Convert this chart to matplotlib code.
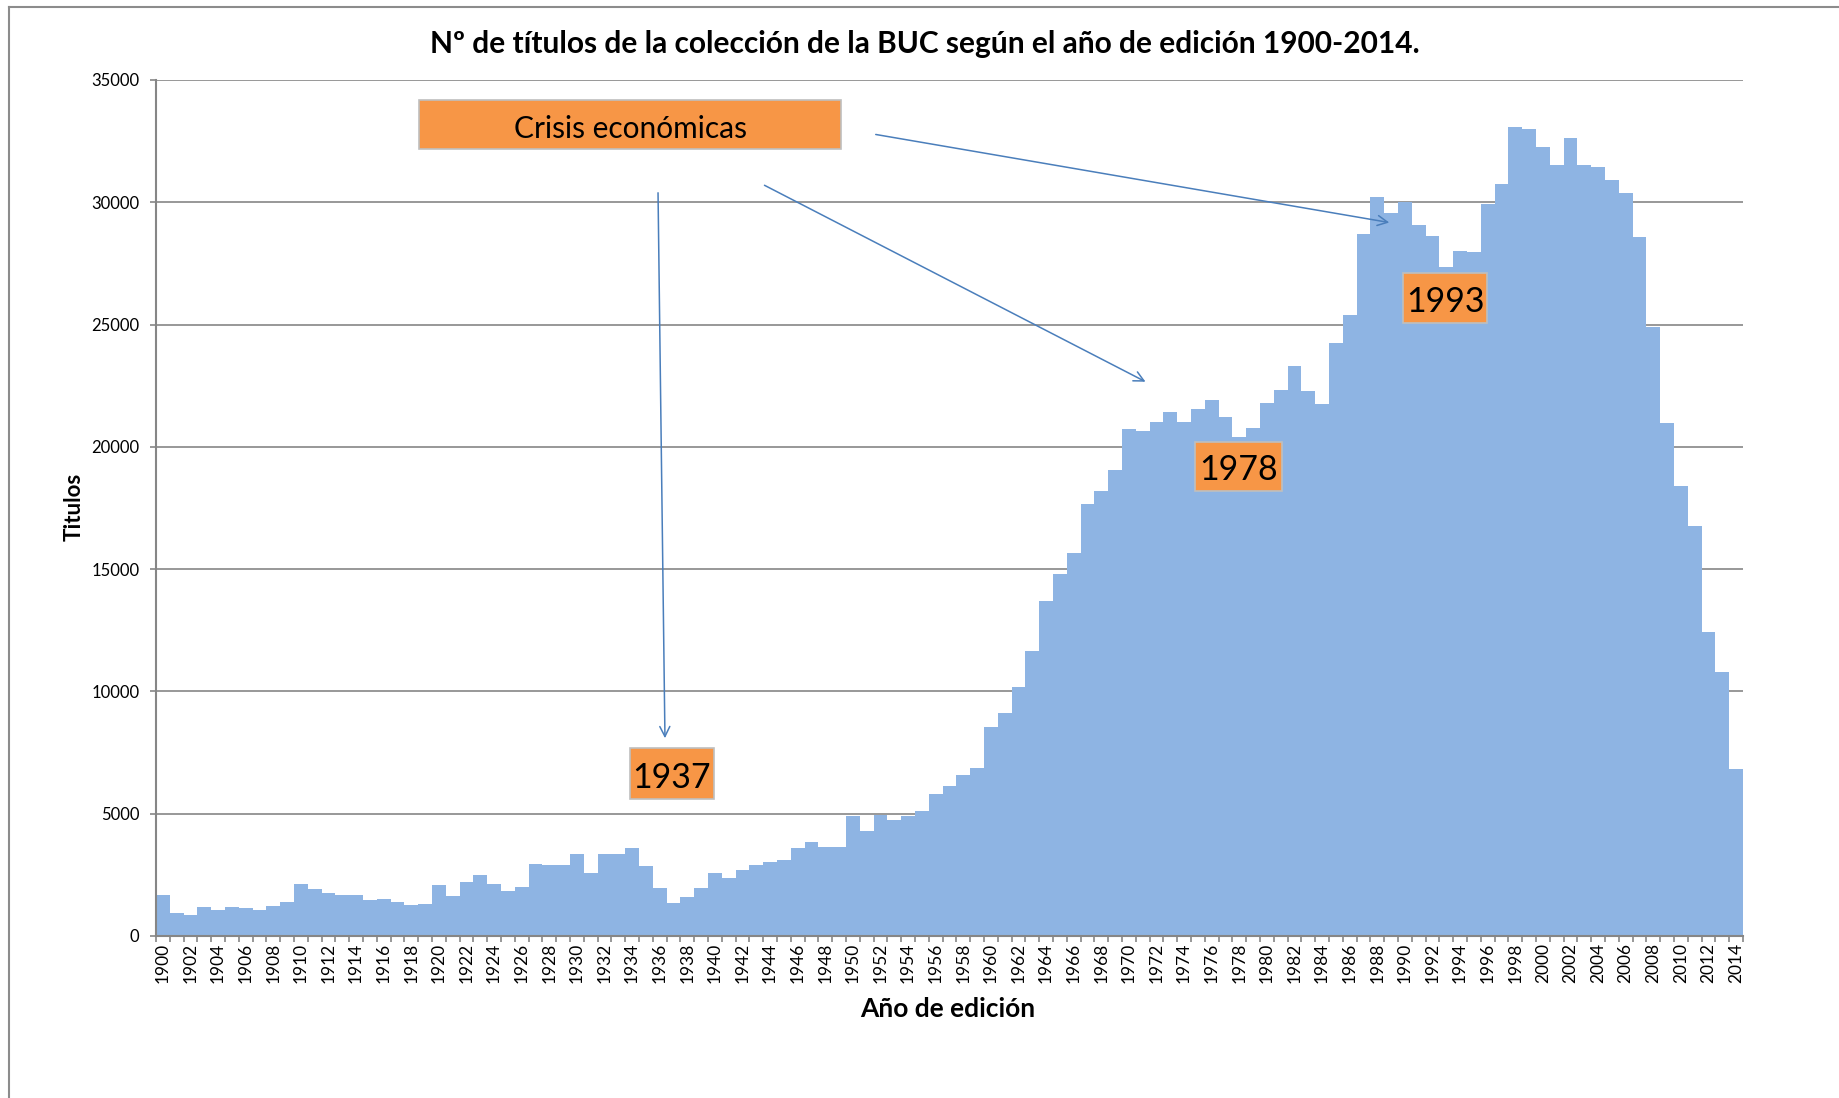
import numpy as np
import matplotlib
matplotlib.use('Agg')
import matplotlib.pyplot as plt
from matplotlib.patches import Rectangle, FancyArrowPatch
from matplotlib.lines import Line2D
from matplotlib.ticker import MultipleLocator

plt.rcParams['font.family'] = ['Lato', 'DejaVu Sans']

# datos: nº de títulos por año de edición
anios = list(range(1900, 2015))
titulos = [
    1690, 960, 850, 1180, 1070, 1180, 1140, 1070, 1240, 1410,        # 1900-1909
    2140, 1920, 1760, 1690, 1690, 1480, 1520, 1410, 1250, 1300,      # 1910-1919
    2090, 1650, 2200, 2480, 2130, 1850, 2020, 2960, 2920, 2920,      # 1920-1929
    3360, 2570, 3360, 3360, 3590, 2850, 1950, 1350, 1610, 1950,      # 1930-1939
    2570, 2360, 2700, 2900, 3020, 3090, 3600, 3830, 3650, 3620,      # 1940-1949
    4900, 4290, 4950, 4740, 4900, 5120, 5790, 6130, 6580, 6870,      # 1950-1959
    8560, 9130, 10200, 11640, 13680, 14790, 15680, 17650, 18210, 19060,   # 1960-1969
    20740, 20630, 21020, 21410, 21020, 21530, 21930, 21230, 20400, 20790, # 1970-1979
    21800, 22310, 23320, 22270, 21750, 24230, 25400, 28720, 30200, 29560, # 1980-1989
    30030, 29070, 28620, 27350, 27990, 27950, 29920, 30750, 33060, 33010, # 1990-1999
    32280, 31540, 32610, 31540, 31430, 30930, 30360, 28580, 24920, 20980, # 2000-2009
    18400, 16760, 12430, 10810, 6820,                                      # 2010-2014
]
etiquetas_x = [str(a) for a in anios if a % 2 == 0]

titulo = 'Nº de títulos de la colección de la BUC según el año de edición 1900-2014.'
notas = ['1937', '1978', '1993']

W, H = 1839, 1098
fig = plt.figure(figsize=(W / 100, H / 100), dpi=100)

def fx(x):
    return x / W

def fy(y):
    return 1 - y / H

ax = fig.add_axes([fx(156), fy(936), fx(1743) - fx(156), fy(80) - fy(936)])

gris = '#868686'
ax.bar(anios, titulos, width=1.0, color='#8EB4E3', edgecolor='none', zorder=2)
ax.set_xlim(1899.5, 2014.5)
ax.set_ylim(0, 35000)

ax.yaxis.set_major_locator(MultipleLocator(5000))
ax.grid(axis='y', color=gris, lw=1.2, zorder=1)
ax.set_xticks([a for a in anios if a % 2 == 0])
ax.set_xticklabels(etiquetas_x, rotation=90, fontsize=12.5)
ax.set_xticks(np.arange(1899.5, 2015, 1), minor=True)
ax.tick_params(axis='x', which='major', length=0, pad=5)
ax.tick_params(axis='x', which='minor', length=4, color=gris, width=1.2)
ax.tick_params(axis='y', length=4, color=gris, width=1.2, pad=8, labelsize=12)

for s in ['top', 'right']:
    ax.spines[s].set_visible(False)
for s in ['left', 'bottom']:
    ax.spines[s].set_color(gris)
    ax.spines[s].set_linewidth(1.5)
    ax.spines[s].set_zorder(3)

fig.text(fx(925), fy(44), titulo, ha='center', va='center', fontsize=21.5, fontweight='bold')
fig.text(fx(948), fy(1009), 'Año de edición', ha='center', va='center', fontsize=19, fontweight='bold')
fig.text(fx(74), fy(507), 'Titulos', ha='center', va='center', rotation=90, fontsize=16, fontweight='bold')

# marco del gráfico
fig.add_artist(Line2D([fx(9), 1], [fy(7), fy(7)], color='#8C8C8C', lw=1.5))
fig.add_artist(Line2D([fx(9), fx(9)], [fy(7), 0], color='#8C8C8C', lw=1.5))

naranja = '#F79646'

def caja(x0, y0, x1, y1, texto, size):
    fig.add_artist(Rectangle((fx(x0), fy(y1)), fx(x1) - fx(x0), fy(y0) - fy(y1),
                             transform=fig.transFigure, facecolor=naranja,
                             edgecolor='#BFBFBF', lw=1.2, zorder=5))
    fig.text(fx((x0 + x1) / 2), fy((y0 + y1) / 2 + 4), texto, ha='center', va='center',
             fontsize=size, zorder=6)

def flecha(xa, ya, xb, yb):
    fig.add_artist(FancyArrowPatch((fx(xa), fy(ya)), (fx(xb), fy(yb)),
                                   transform=fig.transFigure, arrowstyle='->',
                                   mutation_scale=18, color='#4A7EBB', lw=1.1, zorder=6))

caja(419, 100, 841, 149, 'Crisis económicas', 21.5)
caja(630, 748, 714, 799, notas[0], 24.5)
caja(1195, 442, 1282, 491, notas[1], 24.5)
caja(1403, 273, 1487, 323, notas[2], 24.5)

flecha(658, 190, 665, 741)
flecha(762, 184, 1148, 383)
flecha(873, 134, 1392, 223)

fig.savefig('out.png', dpi=100)
